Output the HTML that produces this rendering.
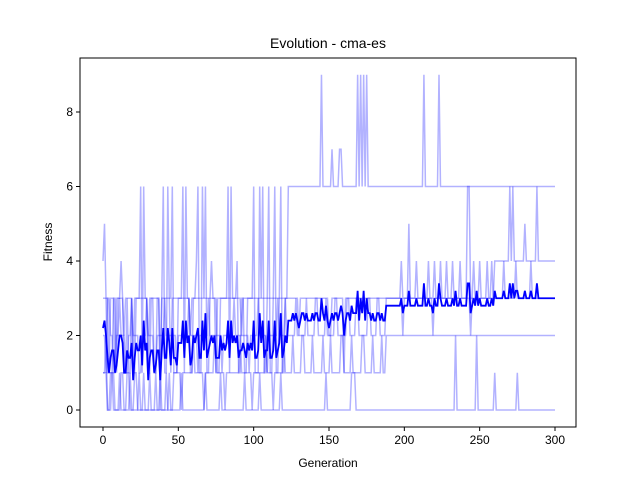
<!DOCTYPE html>
<html><head><meta charset="utf-8"><style>
body{margin:0;background:#fff;}
svg{display:block;font-family:"Liberation Sans","DejaVu Sans",sans-serif;}
</style></head><body>
<svg id="chart" width="640" height="480" viewBox="0 0 640 480">
<rect x="0" y="0" width="640" height="480" fill="#fff"/>
<text x="328" y="48" text-anchor="middle" font-size="14">Evolution - cma-es</text>
<text x="328" y="467" text-anchor="middle" font-size="12">Generation</text>
<text x="52" y="242" text-anchor="middle" font-size="12" transform="rotate(-90 52 242)">Fitness</text>
<g id="series"></g>
<g id="axes"></g>
</svg>
<script>
// change points: [generation, value] - value holds until next change point
const series1 = [[0,4],[1,5],[2,3],[4,1],[7,3],[9,1],[10,3],[12,4],[13,3],[14,1],[16,3],[17,1],[19,3],[20,1],[22,3],[25,6],[26,1],[27,6],[28,3],[30,1],[32,3],[34,1],[36,3],[38,1],[39,3],[40,6],[41,1],[43,6],[44,3],[46,6],[47,1],[50,3],[53,6],[54,1],[55,6],[56,3],[58,1],[60,3],[62,4],[63,6],[64,1],[66,6],[67,3],[68,6],[69,1],[71,3],[72,4],[73,3],[76,1],[78,3],[83,6],[84,1],[85,6],[86,3],[89,4],[90,1],[92,3],[94,1],[96,3],[100,6],[101,1],[104,6],[105,3],[106,6],[107,1],[109,3],[110,6],[111,1],[113,3],[114,6],[115,1],[117,3],[118,6],[119,1],[121,3],[123,6],[145,9],[146,6],[152,7],[153,6],[157,7],[159,6],[169,9],[170,6],[171,9],[172,6],[173,9],[174,6],[175,9],[176,6],[213,9],[214,6],[223,9],[224,6]];
const series2 = [[0,3],[3,1],[5,3],[8,1],[9,3],[14,2],[15,3],[20,1],[21,3],[30,1],[31,3],[38,0],[39,3],[45,1],[46,3],[58,2],[59,3],[75,1],[76,3],[92,2],[93,3],[130,2],[131,3],[150,2],[152,3],[160,1],[161,3],[198,4],[199,3],[203,5],[204,3],[208,4],[209,3],[216,4],[217,3],[220,4],[221,3],[224,4],[225,3],[228,4],[229,3],[232,4],[233,3],[237,4],[238,3],[242,6],[244,3],[246,4],[247,3],[250,4],[251,3],[255,4],[256,3],[260,4],[270,6],[271,4],[272,6],[273,4],[280,5],[281,4],[288,6],[289,4]];
const series3 = [[0,2],[2,1],[3,3],[5,2],[7,1],[9,2],[11,3],[12,2],[15,1],[17,2],[19,3],[20,2],[24,1],[26,2],[29,3],[30,2],[34,1],[36,2],[41,3],[42,2],[49,1],[50,2],[57,3],[58,2],[63,1],[64,2],[70,3],[71,2],[79,1],[80,2],[87,3],[88,2],[97,1],[98,2],[103,3],[104,2],[109,1],[110,2],[116,3],[117,2],[121,3],[122,2],[128,3],[129,2],[135,3],[136,2],[141,3],[143,2],[148,3],[149,2],[154,3],[156,2],[162,3],[164,2],[168,3],[170,2],[176,3],[178,2],[182,3],[184,2],[188,3],[199,2],[200,3],[219,2],[220,3],[244,2],[245,3],[258,4],[259,3],[266,4],[267,3],[274,4],[275,3],[284,4],[285,3]];
const series4 = [[0,1],[2,2],[3,0],[6,1],[8,0],[11,1],[12,0],[18,1],[19,0],[24,1],[25,0],[31,1],[32,0],[38,1],[39,0],[44,1],[45,0],[47,1],[52,0],[53,1],[60,2],[61,1],[67,0],[68,1],[74,2],[75,1],[81,0],[82,1],[91,2],[92,1],[99,0],[100,1],[108,2],[109,1],[113,0],[114,1],[120,2],[121,1],[126,2],[127,1],[132,2],[134,1],[139,2],[140,1],[146,2],[147,1],[151,2],[152,1],[158,2],[160,1],[165,2],[166,1],[172,2],[174,1],[179,2],[180,1],[185,2],[186,1],[188,2]];
const series5 = [[0,1],[3,0],[5,1],[7,0],[12,1],[14,0],[16,1],[18,0],[21,1],[23,0],[27,1],[28,0],[35,1],[36,0],[42,1],[43,0],[52,1],[53,0],[68,1],[69,0],[78,1],[79,0],[94,1],[95,0],[104,1],[105,0],[118,1],[119,0],[148,1],[149,0],[165,1],[168,0],[234,2],[235,0],[248,2],[249,0],[260,1],[261,0],[275,1],[276,0]];
const allSeries = [series1, series2, series3, series4, series5];
const xTicks = [0, 50, 100, 150, 200, 250, 300];
const yTicks = [0, 2, 4, 6, 8];
const nGen = 301;

const NS = 'http://www.w3.org/2000/svg';
const X0 = 80, X1 = 576, Y0 = 58, Y1 = 427;
function xs(g){ return 103 + g * (555 - 103) / 300; }
function ys(v){ return 410 - v * (410 - 112) / 8; }
function expand(cp){
  const out = [];
  let k = 0;
  for (let g = 0; g < nGen; g++){
    while (k + 1 < cp.length && cp[k+1][0] <= g) k++;
    out.push(cp[k][1]);
  }
  return out;
}
const sg = document.getElementById('series');
const expanded = allSeries.map(expand);
expanded.forEach((vals, i) => {
  const p = document.createElementNS(NS, 'polyline');
  p.setAttribute('points', vals.map((v, g) => xs(g).toFixed(2) + ',' + ys(v).toFixed(2)).join(' '));
  p.setAttribute('fill', 'none');
  p.setAttribute('stroke', 'rgba(0,0,255,0.3)');
  p.setAttribute('stroke-width', '1.5');
  
  
  sg.appendChild(p);
});
const mean = [];
for (let g = 0; g < nGen; g++){
  let s = 0; expanded.forEach(v => s += v[g]); mean.push(s / expanded.length);
}
const mp = document.createElementNS(NS, 'polyline');
mp.setAttribute('points', mean.map((v, g) => xs(g).toFixed(2) + ',' + ys(v).toFixed(2)).join(' '));
mp.setAttribute('fill', 'none');
mp.setAttribute('stroke', '#0000ff');
mp.setAttribute('stroke-width', '1.8');


sg.appendChild(mp);

const ag = document.getElementById('axes');
const frame = document.createElementNS(NS, 'rect');
frame.setAttribute('x', X0); frame.setAttribute('y', Y0);
frame.setAttribute('width', X1 - X0); frame.setAttribute('height', Y1 - Y0);
frame.setAttribute('fill', 'none'); frame.setAttribute('stroke', '#000'); frame.setAttribute('stroke-width', '1');


ag.appendChild(frame);
xTicks.forEach(t => {
  const x = xs(t);
  const l = document.createElementNS(NS, 'line');
  l.setAttribute('x1', x); l.setAttribute('x2', x); l.setAttribute('y1', Y1); l.setAttribute('y2', Y1 + 4);
  l.setAttribute('stroke', '#000');
  
  
  ag.appendChild(l);
  const tx = document.createElementNS(NS, 'text');
  tx.setAttribute('x', x); tx.setAttribute('y', Y1 + 17); tx.setAttribute('text-anchor', 'middle'); tx.setAttribute('font-size', '12');
  tx.textContent = t;
  
  
  ag.appendChild(tx);
});
yTicks.forEach(t => {
  const y = ys(t);
  const l = document.createElementNS(NS, 'line');
  l.setAttribute('x1', X0 - 4); l.setAttribute('x2', X0); l.setAttribute('y1', y); l.setAttribute('y2', y);
  l.setAttribute('stroke', '#000');
  
  
  ag.appendChild(l);
  const tx = document.createElementNS(NS, 'text');
  tx.setAttribute('x', X0 - 7); tx.setAttribute('y', y + 4); tx.setAttribute('text-anchor', 'end'); tx.setAttribute('font-size', '12');
  tx.textContent = t;
  
  
  ag.appendChild(tx);
});
</script>
</body></html>
